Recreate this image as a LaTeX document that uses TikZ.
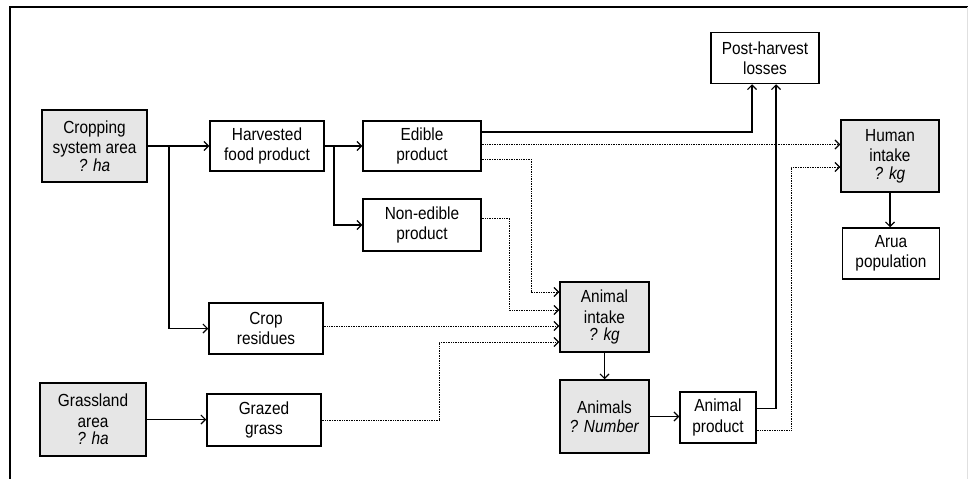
\documentclass[tikz,border=0pt]{standalone}
\usepackage{fontspec}
\setmainfont{Liberation Sans}[FakeStretch=0.88]
\usetikzlibrary{arrows.meta}
\definecolor{boxgray}{RGB}{230,230,230}
\tikzset{
  box/.style={draw=black, line width=1.5pt, fill=white, inner sep=0pt, align=center,
    font=\fontsize{17.5}{20.5}\selectfont},
  gbox/.style={box, fill=boxgray},
  arr/.style={line width=1.2pt, -{Straight Barb[length=4.5pt,width=9pt,line width=1.1pt]}},
  darr/.style={line width=1pt, dash pattern=on 1pt off 0.7pt, -{Straight Barb[length=4.5pt,width=9pt,line width=1.1pt]}},
}
\begin{document}
\begin{tikzpicture}[x=1pt,y=-1pt]
\useasboundingbox (0,0) rectangle (968,479);
% frame
\draw[line width=2.5pt] (9,7) -- (968,7);
\draw[line width=2pt] (10,7) -- (10,479);
\draw[line width=0.8pt, black!12] (967,7) -- (967,479);
% nodes
\node[gbox, minimum width=105pt, minimum height=72pt] (crop) at (94.5,146) {Cropping\\system area\\[-3pt]\textit{? ha}};
\node[box, minimum width=114pt, minimum height=50pt] (harv) at (267,146) {Harvested\\food product};
\node[box, minimum width=118pt, minimum height=50pt] (edib) at (422,146) {Edible\\product};
\node[box, minimum width=118pt, minimum height=52pt] (nonedib) at (422,225) {Non-edible\\product};
\node[box, minimum width=108pt, minimum height=51pt] (post) at (765,58) {Post-harvest\\losses};
\node[gbox, minimum width=98pt, minimum height=72pt] (human) at (890,156) {Human\\intake\\[-3pt]\textit{? kg}};
\node[box, minimum width=97pt, minimum height=51pt] (arua) at (891,253.5) {Arua\\population};
\node[gbox, minimum width=89pt, minimum height=70pt] (aintake) at (604.5,317) {Animal\\intake\\[-3pt]\textit{? kg}};
\node[gbox, minimum width=89pt, minimum height=73pt] (animals) at (604.5,416.5) {Animals\\[-2pt]\textit{? Number}};
\node[box, minimum width=76pt, minimum height=51pt] (aprod) at (718,417.5) {Animal\\product};
\node[box, minimum width=114pt, minimum height=51pt] (resid) at (266,328.5) {Crop\\residues};
\node[gbox, minimum width=106pt, minimum height=73pt] (grass) at (93,419.5) {Grassland\\area\\[-3pt]\textit{? ha}};
\node[box, minimum width=114pt, minimum height=52pt] (grazed) at (264,420) {Grazed\\grass};
% branch points
\coordinate (b1) at (169,146);
\coordinate (b2) at (334,146);
% solid connectors
\draw[arr] (crop.east) -- (harv.west);
\draw[arr] (b1) |- (resid.west);
\draw[arr] (harv.east) -- (edib.west);
\draw[arr] (b2) |- (nonedib.west);
\draw[arr] ([yshift=14pt]edib.east) -| ([xshift=-13pt]post.south);
\draw[arr] (grass.east) -- (grass.east -| grazed.west);
\draw[arr] (aintake.south) -- (animals.north);
\draw[arr] (animals.east) -- (animals.east -| aprod.west);
\draw[arr] ([yshift=9pt]aprod.east) -| ([xshift=11pt]post.south);
\draw[arr] (human.south) -- (human.south |- arua.north);
% dotted connectors
\draw[darr] ([yshift=1.5pt]edib.east) -- ([yshift=1.5pt]edib.east -| human.west);
\draw[darr] ([yshift=-13pt]edib.east) -| ([xshift=-28pt,yshift=25pt]aintake.west) -- ([yshift=25pt]aintake.west);
\draw[darr] ([yshift=7pt]nonedib.east) -| ([xshift=-50pt,yshift=7pt]aintake.west) -- ([yshift=7pt]aintake.west);
\draw[darr] ([yshift=-9pt]aintake.west -| resid.east) -- ([yshift=-9pt]aintake.west);
\draw[darr] (grazed.east) -| ([xshift=-120pt,yshift=-25pt]aintake.west) -- ([yshift=-25pt]aintake.west);
\draw[darr] ([yshift=-12.5pt]aprod.east) -| ([xshift=-49pt,yshift=-11pt]human.west) -- ([yshift=-11pt]human.west);
\end{tikzpicture}
\end{document}
